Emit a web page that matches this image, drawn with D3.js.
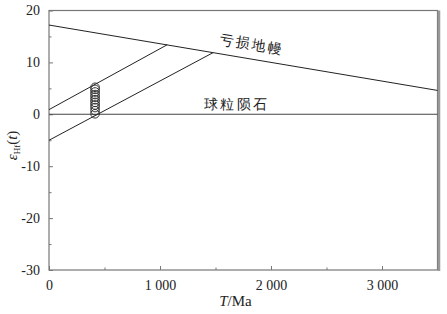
<!DOCTYPE html>
<html>
<head>
<meta charset="utf-8">
<script src="https://cdn.jsdelivr.net/npm/d3@7"></script>
<style>
  body { margin: 0; background: #fff; }
  text { font-family: "Liberation Serif", "DejaVu Serif", serif; }
</style>
</head>
<body>
<div id="chart"></div>
<script>
// data
var xTicks = [0, 1000, 2000, 3000];
var xMinor = [500, 1500, 2500];
var yTicks = [20, 10, 0, -10, -20, -30];
var yMinor = [15, 5, -5, -15, -25];

// depleted mantle evolution line
var dmT = [0, 3500];
var dmE = [17.2, 4.6];
// chondrite line
var churT = [0, 3500];
var churE = [0, 0];
// two model-age lines, from T=0 to the DM line
var lineAT = [0, 1065];
var lineAE = [0.9, 13.4];
var lineBT = [0, 1480];
var lineBE = [-5.0, 11.9];
// zircon points
var ptT = [415, 415, 415, 415, 415, 415, 415, 415, 415, 415, 415];
var ptE = [0.1, 0.7, 1.3, 1.8, 2.3, 2.8, 3.3, 3.8, 4.3, 4.8, 5.2];

var width = 447, height = 314;
var marginLeft = 49, marginRight = 9.5, marginTop = 10.5, marginBottom = 44;

var svg = d3.select("#chart").append("svg")
  .attr("width", width)
  .attr("height", height);

var xScale = d3.scaleLinear().domain([0, 3500]).range([marginLeft, width - marginRight]);
var yScale = d3.scaleLinear().domain([-30, 20]).range([height - marginBottom, marginTop]);

var axisColor = "#777";

// frame
svg.append("rect")
  .attr("x", xScale(0)).attr("y", yScale(20))
  .attr("width", xScale(3500) - xScale(0))
  .attr("height", yScale(-30) - yScale(20))
  .attr("fill", "none").attr("stroke", axisColor).attr("stroke-width", 1.2);
// thick right edge
svg.append("line")
  .attr("x1", xScale(3500) + 1.5).attr("x2", xScale(3500) + 1.5)
  .attr("y1", yScale(20)).attr("y2", yScale(-30) + 1)
  .attr("stroke", "#999").attr("stroke-width", 2.5);

// axes, ticks inside
var xAxis = d3.axisBottom(xScale).tickValues(xTicks).tickSizeInner(-4).tickSizeOuter(0)
  .tickPadding(10)
  .tickFormat(function(d){ return d == 0 ? "0" : d3.format(",")(d).replace(",", " "); });
var gx = svg.append("g")
  .attr("transform", "translate(0," + yScale(-30) + ")")
  .call(xAxis);
gx.select(".domain").remove();
gx.selectAll(".tick line").attr("stroke", axisColor);
gx.selectAll("text").attr("font-size", 14).attr("fill", "#222");

var gxm = svg.append("g")
  .attr("transform", "translate(0," + yScale(-30) + ")")
  .call(d3.axisBottom(xScale).tickValues(xMinor).tickSizeInner(-2.5).tickSizeOuter(0).tickFormat(""));
gxm.select(".domain").remove();
gxm.selectAll(".tick line").attr("stroke", axisColor);

var yAxis = d3.axisLeft(yScale).tickValues(yTicks).tickSizeInner(-4).tickSizeOuter(0)
  .tickPadding(9)
  .tickFormat(function(d){ return d; });
var gy = svg.append("g")
  .attr("transform", "translate(" + marginLeft + ",0)")
  .call(yAxis);
gy.select(".domain").remove();
gy.selectAll(".tick line").attr("stroke", axisColor);
gy.selectAll("text").attr("font-size", 14).attr("fill", "#222");

var gym = svg.append("g")
  .attr("transform", "translate(" + marginLeft + ",0)")
  .call(d3.axisLeft(yScale).tickValues(yMinor).tickSizeInner(-2.5).tickSizeOuter(0).tickFormat(""));
gym.select(".domain").remove();
gym.selectAll(".tick line").attr("stroke", axisColor);

// lines
var line = d3.line()
  .x(function(d){ return xScale(d[0]); })
  .y(function(d){ return yScale(d[1]); });

function drawLine(ts, es, color, w) {
  var pts = ts.map(function(t, i){ return [t, es[i]]; });
  svg.append("path")
    .datum(pts)
    .attr("d", line)
    .attr("fill", "none")
    .attr("stroke", color)
    .attr("stroke-width", w);
}
drawLine(churT, churE, "#444", 1.1);
drawLine(dmT, dmE, "#222", 1);
drawLine(lineAT, lineAE, "#222", 1);
drawLine(lineBT, lineBE, "#222", 1);

// points
svg.selectAll("circle.pt")
  .data(ptT.map(function(t, i){ return [t, ptE[i]]; }))
  .enter()
  .append("circle")
  .attr("class", "pt")
  .attr("cx", function(d){ return xScale(d[0]); })
  .attr("cy", function(d){ return yScale(d[1]); })
  .attr("r", 4.3)
  .attr("fill", "none")
  .attr("stroke", "#333")
  .attr("stroke-width", 1);

// line labels
var ang = Math.atan2(yScale(dmE[1]) - yScale(dmE[0]), xScale(dmT[1]) - xScale(dmT[0])) * 180 / Math.PI;
var labT = 1820;
var labE = dmE[0] + (dmE[1] - dmE[0]) * labT / dmT[1];
svg.append("text")
  .attr("transform", "translate(" + xScale(labT) + "," + (yScale(labE) - 10) + ") rotate(" + ang + ")")
  .attr("text-anchor", "middle")
  .attr("font-size", 14)
  .attr("letter-spacing", 2)
  .attr("fill", "#222")
  .text("亏损地幔");

svg.append("text")
  .attr("x", xScale(1690))
  .attr("y", yScale(0) - 5)
  .attr("text-anchor", "middle")
  .attr("font-size", 14)
  .attr("letter-spacing", 2.5)
  .attr("fill", "#222")
  .text("球粒陨石");

// axis titles
var yt = svg.append("text")
  .attr("transform", "translate(17," + (yScale(-6)) + ") rotate(-90)")
  .attr("text-anchor", "middle")
  .attr("font-size", 15)
  .attr("fill", "#222");
yt.append("tspan").style("font-style", "italic").text("ε");
yt.append("tspan").attr("font-size", 9).attr("dy", 3).text("Hf");
yt.append("tspan").attr("dy", -3).text("(");
yt.append("tspan").style("font-style", "italic").text("t");
yt.append("tspan").text(")");

var xt = svg.append("text")
  .attr("x", xScale(1680))
  .attr("y", height - 8)
  .attr("text-anchor", "middle")
  .attr("font-size", 15)
  .attr("fill", "#222");
xt.append("tspan").style("font-style", "italic").text("T");
xt.append("tspan").text("/Ma");
</script>
</body>
</html>
